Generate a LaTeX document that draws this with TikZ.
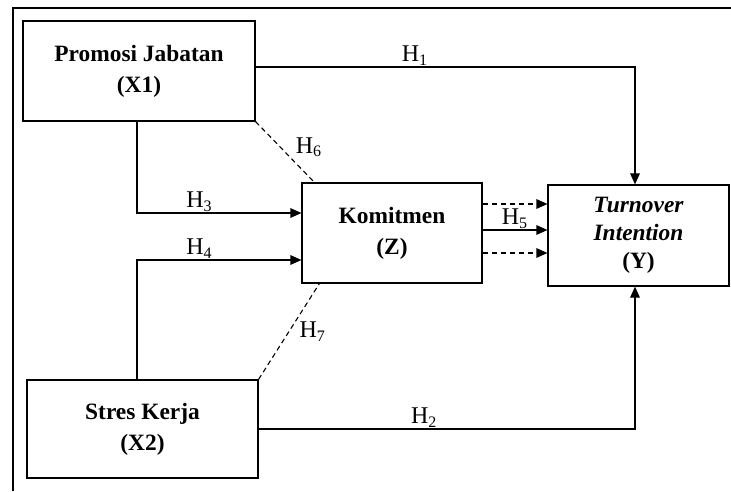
\documentclass[tikz,border=0pt]{standalone}
\usepackage{fontspec}
\setmainfont{Liberation Serif}
\usetikzlibrary{arrows.meta}

\begin{document}
\begin{tikzpicture}[x=0.5pt,y=-0.5pt,
    box/.style={draw,line width=0.6pt,inner sep=0pt,align=center,
                font=\fontsize{11.7}{15.5}\selectfont\bfseries},
    arr/.style={line width=0.6pt,-{Triangle[length=5.5pt,width=4.8pt]}},
    link/.style={line width=0.55pt,dash pattern=on 2.5pt off 1.8pt},
    hyp/.style={inner sep=0.5pt,font=\fontsize{12}{14}\selectfont}]
  \useasboundingbox (0,0) rectangle (731,491);
  % frame (left and top edge only)
  \draw[line width=0.7pt] (13,491) -- (13,8) -- (731,8);

  % variables
  \node[box,minimum width=116pt,minimum height=50pt] (x1) at (139,71)
    {Promosi Jabatan\\(X1)};
  \node[box,minimum width=115.5pt,minimum height=49pt] (x2) at (142.5,429)
    {Stres Kerja\\(X2)};
  \node[box,minimum width=90pt,minimum height=50pt] (z) at (392,233)
    {Komitmen\\(Z)};
  \node[box,minimum width=90.5pt,minimum height=50.5pt,
        font=\fontsize{11.7}{14}\selectfont\bfseries] (y) at (638.5,235.5)
    {\textit{Turnover}\\\textit{Intention}\\(Y)};

  % direct paths
  \draw[arr] (x1.east |- 0,67) -| node[hyp,above,pos=0.21] {H\textsubscript{1}}
    ([xshift=-1.75pt]y.north);
  \draw[arr] (x2.east) -| node[hyp,above,pos=0.22] {H\textsubscript{2}}
    ([xshift=-1.75pt]y.south);
  \draw[arr] ([xshift=-1pt]x1.south) |- node[hyp,above,pos=0.69] {H\textsubscript{3}}
    ([yshift=10pt]z.west);
  \draw[arr] ([xshift=-2.75pt]x2.north) |- node[hyp,above,pos=0.69] {H\textsubscript{4}}
    ([yshift=-13.5pt]z.west);

  % Z -> Y
  \coordinate (za) at ([yshift=14.5pt]z.east);
  \coordinate (zb) at ([yshift=1.5pt]z.east);
  \coordinate (zc) at ([yshift=-10pt]z.east);
  \draw[arr,dash pattern=on 2.5pt off 2pt] (za) -- (za -| y.west);
  \draw[arr] (zb) -- node[hyp,above] {H\textsubscript{5}} (zb -| y.west);
  \draw[arr,dash pattern=on 2.5pt off 2pt] (zc) -- (zc -| y.west);

  % mediation
  \draw[link] (x1.south east) -- node[hyp,pos=0.42,right=7pt] {H\textsubscript{6}}
    ([xshift=6.5pt]z.north west);
  \draw[link] (x2.north east) -- node[hyp,pos=0.5,right=4.5pt] {H\textsubscript{7}}
    ([xshift=9pt]z.south west);
\end{tikzpicture}
\end{document}
